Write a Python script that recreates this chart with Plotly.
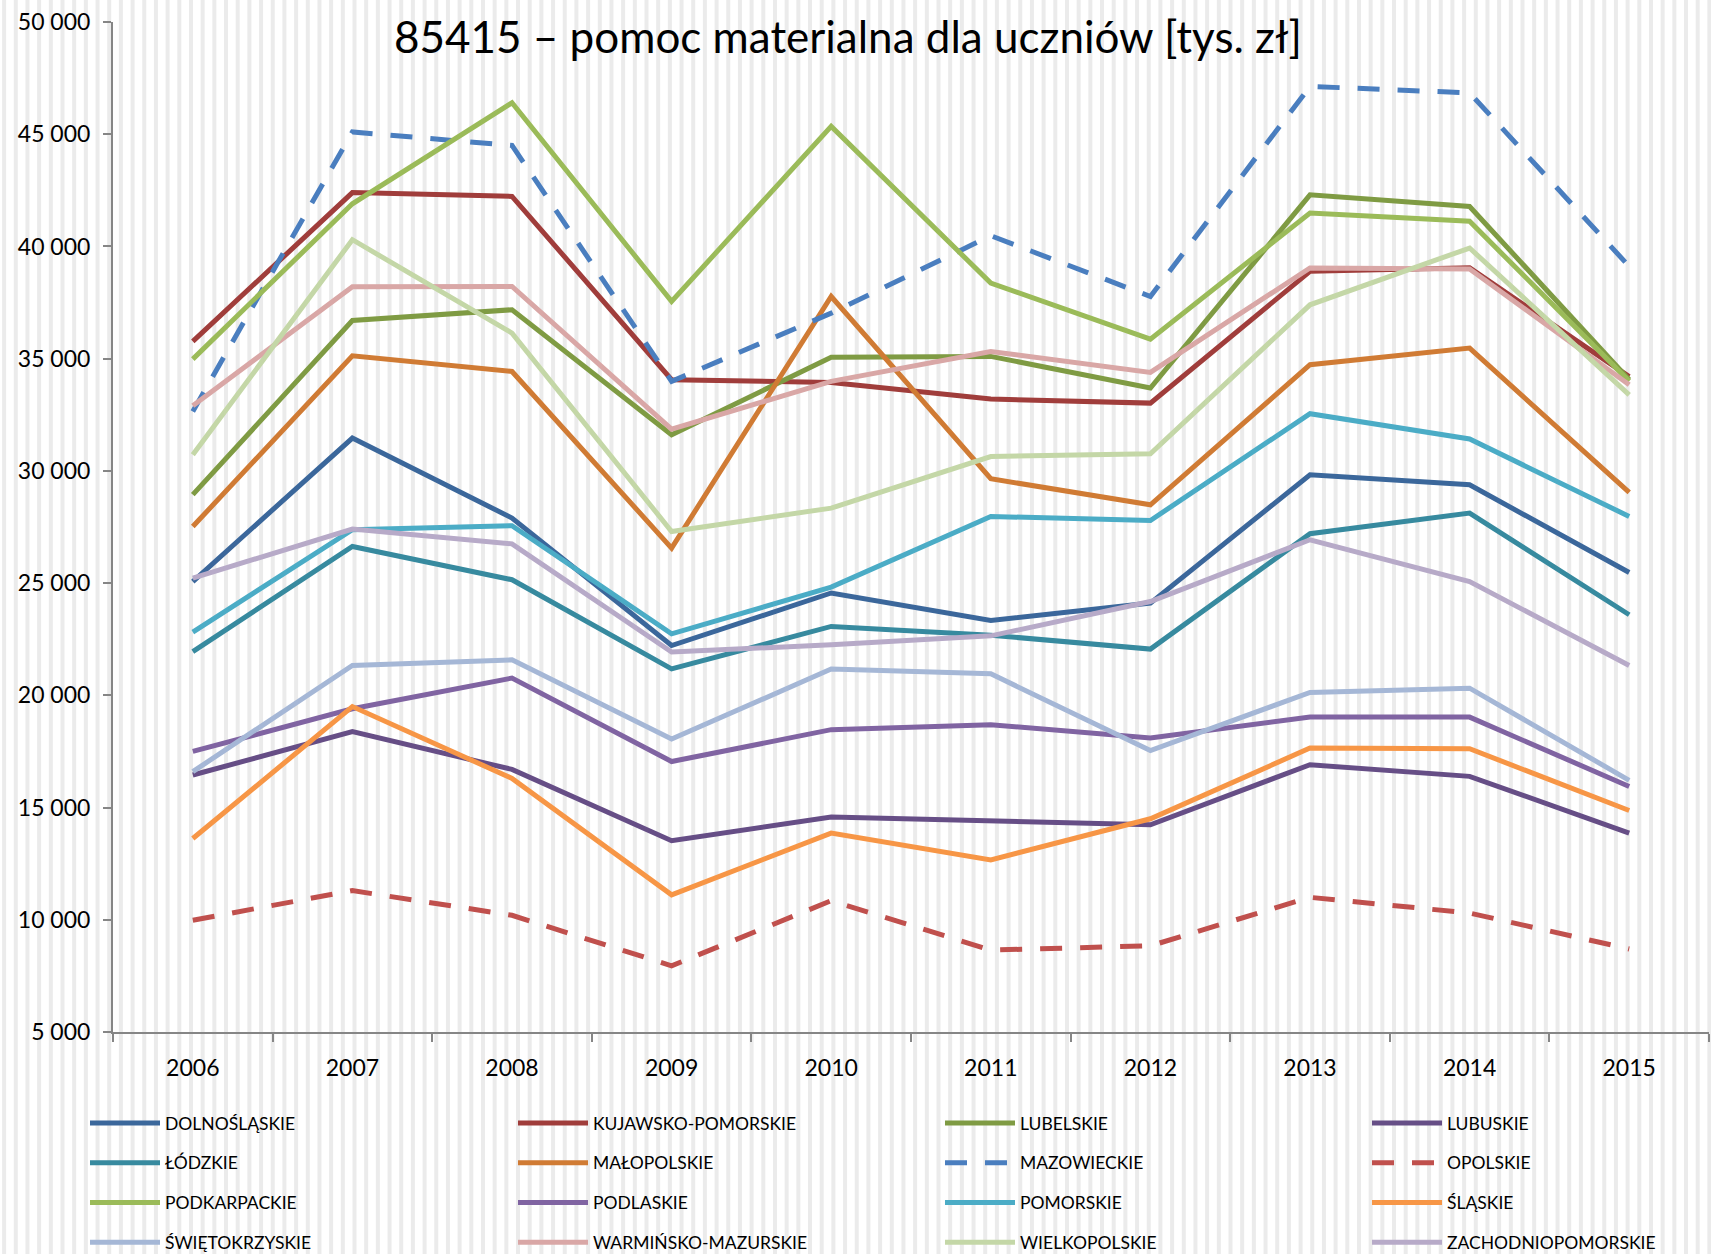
import plotly.graph_objects as go

W, H = 1711, 1254
ML, MR, MT, MB = 113, 2, 22, 222

years = ["2006", "2007", "2008", "2009", "2010", "2011", "2012", "2013", "2014", "2015"]

names = [
    "DOLNOŚLĄSKIE", "KUJAWSKO-POMORSKIE", "LUBELSKIE", "LUBUSKIE",
    "ŁÓDZKIE", "MAŁOPOLSKIE", "MAZOWIECKIE", "OPOLSKIE",
    "PODKARPACKIE", "PODLASKIE", "POMORSKIE", "ŚLĄSKIE",
    "ŚWIĘTOKRZYSKIE", "WARMIŃSKO-MAZURSKIE", "WIELKOPOLSKIE", "ZACHODNIOPOMORSKIE",
]

dolnoslaskie = [25070, 31460, 27900, 22220, 24560, 23340, 24110, 29830, 29380, 25470]
kujawsko_pomorskie = [35770, 42400, 42230, 34060, 33940, 33200, 33020, 38890, 39050, 34200]
lubelskie = [28940, 36700, 37180, 31610, 35060, 35100, 33690, 42300, 41780, 34060]
lubuskie = [16450, 18380, 16700, 13520, 14580, 14380, 14230, 16910, 16390, 13860]
lodzkie = [21950, 26630, 25150, 21180, 23070, 22680, 22060, 27200, 28120, 23590]
malopolskie = [27520, 35130, 34430, 26560, 37770, 29650, 28490, 34730, 35470, 29040]
mazowieckie = [32650, 45100, 44500, 33990, 37030, 40480, 37770, 47130, 46840, 39110]
opolskie = [9980, 11300, 10200, 7950, 10850, 8650, 8840, 11000, 10300, 8700]
podkarpackie = [34980, 41900, 46400, 37550, 45350, 38370, 35870, 41490, 41120, 34000]
podlaskie = [17500, 19400, 20770, 17050, 18470, 18690, 18100, 19030, 19030, 15940]
pomorskie = [22820, 27380, 27560, 22740, 24820, 27970, 27790, 32550, 31420, 27970]
slaskie = [13620, 19500, 16300, 11110, 13860, 12670, 14500, 17650, 17620, 14870]
swietokrzyskie = [16600, 21330, 21580, 18050, 21170, 20960, 17540, 20130, 20320, 16210]
warminsko_mazurskie = [32900, 38200, 38220, 31860, 33990, 35320, 34390, 39040, 39000, 33840]
wielkopolskie = [30720, 40300, 36140, 27300, 28340, 30640, 30760, 37400, 39930, 33390]
zachodniopomorskie = [25220, 27410, 26750, 21930, 22250, 22650, 24180, 26930, 25070, 21330]

series = [
    dolnoslaskie, kujawsko_pomorskie, lubelskie, lubuskie,
    lodzkie, malopolskie, mazowieckie, opolskie,
    podkarpackie, podlaskie, pomorskie, slaskie,
    swietokrzyskie, warminsko_mazurskie, wielkopolskie, zachodniopomorskie,
]

colors = [
    "#3B679B", "#A03D3B", "#7F9B43", "#664E86",
    "#378A9F", "#D07B34", "#4A7EBF", "#C0504D",
    "#9BBB59", "#8064A2", "#4BACC6", "#F79646",
    "#A5B7D6", "#D9A7A6", "#C4D7A7", "#B7AAC8",
]
dashed = {"MAZOWIECKIE", "OPOLSKIE"}

FONT = "Lato, 'Open Sans', sans-serif"

fig = go.Figure()
for i, (name, vals, col) in enumerate(zip(names, series, colors)):
    fig.add_trace(go.Scatter(
        x=years, y=vals, name=name, mode="lines",
        line=dict(color=col, width=5, dash="22px,18px" if name in dashed else "solid"),
        legend="legend" if i % 4 == 0 else f"legend{i % 4 + 1}",
        legendgroup=name,
    ))

# vertical stripe background (decoration)
pw = W - ML - MR
ph = H - MT - MB
shapes = []
k = 0
while True:
    px = 4.1 + 11.68 * k
    if px > W:
        break
    x0 = (px - 2 - ML) / pw
    x1 = (px + 2 - ML) / pw
    shapes.append(dict(type="rect", xref="paper", yref="paper",
                       x0=x0, x1=x1, y0=-MB / ph - 0.01, y1=1 + MT / ph + 0.01,
                       fillcolor="#ebebeb", line=dict(width=0), layer="below"))
    k += 1

legend_cols = [85, 513, 940, 1367]
leg_common = dict(
    xref="container", yref="container", xanchor="left", yanchor="top",
    orientation="v", bgcolor="rgba(0,0,0,0)", borderwidth=0,
    font=dict(family=FONT, size=17.5, color="#000000"),
    tracegroupgap=14, itemwidth=70,
)
legends = {}
for c, lx in enumerate(legend_cols):
    key = "legend" if c == 0 else f"legend{c + 1}"
    legends[key] = dict(leg_common, x=lx / W, y=1 - 1105 / H)

fig.update_layout(
    width=W, height=H,
    margin=dict(l=ML, r=MR, t=MT, b=MB, pad=0, autoexpand=False),
    paper_bgcolor="#ffffff", plot_bgcolor="rgba(0,0,0,0)",
    separators=", ",
    font=dict(family=FONT, color="#000000"),
    title=dict(text="85415 – pomoc materialna dla uczniów [tys. zł]",
               font=dict(family=FONT, size=44, color="#000000"),
               xref="container", x=848 / W, xanchor="center",
               yref="container", y=1 - 38 / H, yanchor="middle"),
    showlegend=True,
    shapes=shapes,
    xaxis=dict(type="category", tickson="boundaries", ticks="outside", ticklen=8,
               tickcolor="#868686", tickwidth=2, showline=True, linecolor="#868686",
               linewidth=2, showgrid=False, zeroline=False,
               tickfont=dict(family=FONT, size=23, color="#000000"),
               ticklabelstandoff=14, range=[-0.5, 9.5]),
    yaxis=dict(range=[5000, 50000], dtick=5000, tickformat=",d", ticks="outside",
               ticklen=8, tickcolor="#868686", tickwidth=2, showline=True,
               linecolor="#868686", linewidth=2, showgrid=False, zeroline=False,
               tickfont=dict(family=FONT, size=23, color="#000000"),
               ticklabelstandoff=8),
    **legends,
)

fig.write_html("out.html", config={"displayModeBar": False},
               post_script="document.body.style.margin='0';")
